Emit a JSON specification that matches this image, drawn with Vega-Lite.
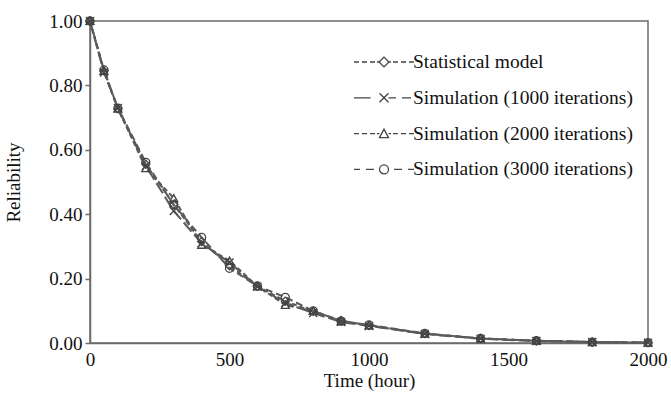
{
  "$schema": "https://vega.github.io/schema/vega-lite/v6.json",
  "width": 558,
  "height": 322,
  "autosize": "none",
  "padding": {"left": 90, "top": 21, "right": 23, "bottom": 61},
  "background": "white",
  "config": {
    "view": {"stroke": "#6b6b6b", "strokeWidth": 1.5},
    "font": "Liberation Serif",
    "axis": {
      "labelFont": "Liberation Serif",
      "labelFontSize": 19,
      "labelColor": "#111",
      "titleFont": "Liberation Serif",
      "titleFontSize": 19,
      "titleFontWeight": "normal",
      "titleColor": "#111",
      "domainColor": "#6b6b6b",
      "domainWidth": 1.5,
      "tickColor": "#6b6b6b",
      "tickWidth": 1.5,
      "grid": false,
      "labelFlush": false
    }
  },
  "data": {
    "values": [
      {"series": "Statistical model", "t": 0, "r": 1.0},
      {"series": "Statistical model", "t": 50, "r": 0.845},
      {"series": "Statistical model", "t": 100, "r": 0.727},
      {"series": "Statistical model", "t": 200, "r": 0.555},
      {"series": "Statistical model", "t": 300, "r": 0.43},
      {"series": "Statistical model", "t": 400, "r": 0.315},
      {"series": "Statistical model", "t": 500, "r": 0.24},
      {"series": "Statistical model", "t": 600, "r": 0.176},
      {"series": "Statistical model", "t": 700, "r": 0.13},
      {"series": "Statistical model", "t": 800, "r": 0.098},
      {"series": "Statistical model", "t": 900, "r": 0.07},
      {"series": "Statistical model", "t": 1000, "r": 0.054},
      {"series": "Statistical model", "t": 1200, "r": 0.029},
      {"series": "Statistical model", "t": 1400, "r": 0.014},
      {"series": "Statistical model", "t": 1600, "r": 0.007},
      {"series": "Statistical model", "t": 1800, "r": 0.003},
      {"series": "Statistical model", "t": 2000, "r": 0.001},
      {"series": "Simulation (1000 iterations)", "t": 0, "r": 1.0},
      {"series": "Simulation (1000 iterations)", "t": 50, "r": 0.84},
      {"series": "Simulation (1000 iterations)", "t": 100, "r": 0.73},
      {"series": "Simulation (1000 iterations)", "t": 200, "r": 0.55},
      {"series": "Simulation (1000 iterations)", "t": 300, "r": 0.41},
      {"series": "Simulation (1000 iterations)", "t": 400, "r": 0.31},
      {"series": "Simulation (1000 iterations)", "t": 500, "r": 0.25},
      {"series": "Simulation (1000 iterations)", "t": 600, "r": 0.175},
      {"series": "Simulation (1000 iterations)", "t": 700, "r": 0.125},
      {"series": "Simulation (1000 iterations)", "t": 800, "r": 0.093},
      {"series": "Simulation (1000 iterations)", "t": 900, "r": 0.065},
      {"series": "Simulation (1000 iterations)", "t": 1000, "r": 0.053},
      {"series": "Simulation (1000 iterations)", "t": 1200, "r": 0.028},
      {"series": "Simulation (1000 iterations)", "t": 1400, "r": 0.013},
      {"series": "Simulation (1000 iterations)", "t": 1600, "r": 0.006},
      {"series": "Simulation (1000 iterations)", "t": 1800, "r": 0.003},
      {"series": "Simulation (1000 iterations)", "t": 2000, "r": 0.001},
      {"series": "Simulation (2000 iterations)", "t": 0, "r": 1.0},
      {"series": "Simulation (2000 iterations)", "t": 50, "r": 0.845},
      {"series": "Simulation (2000 iterations)", "t": 100, "r": 0.728},
      {"series": "Simulation (2000 iterations)", "t": 200, "r": 0.543},
      {"series": "Simulation (2000 iterations)", "t": 300, "r": 0.45},
      {"series": "Simulation (2000 iterations)", "t": 400, "r": 0.305},
      {"series": "Simulation (2000 iterations)", "t": 500, "r": 0.256},
      {"series": "Simulation (2000 iterations)", "t": 600, "r": 0.176},
      {"series": "Simulation (2000 iterations)", "t": 700, "r": 0.118},
      {"series": "Simulation (2000 iterations)", "t": 800, "r": 0.1},
      {"series": "Simulation (2000 iterations)", "t": 900, "r": 0.068},
      {"series": "Simulation (2000 iterations)", "t": 1000, "r": 0.055},
      {"series": "Simulation (2000 iterations)", "t": 1200, "r": 0.029},
      {"series": "Simulation (2000 iterations)", "t": 1400, "r": 0.014},
      {"series": "Simulation (2000 iterations)", "t": 1600, "r": 0.007},
      {"series": "Simulation (2000 iterations)", "t": 1800, "r": 0.003},
      {"series": "Simulation (2000 iterations)", "t": 2000, "r": 0.001},
      {"series": "Simulation (3000 iterations)", "t": 0, "r": 1.0},
      {"series": "Simulation (3000 iterations)", "t": 50, "r": 0.848},
      {"series": "Simulation (3000 iterations)", "t": 100, "r": 0.729},
      {"series": "Simulation (3000 iterations)", "t": 200, "r": 0.561},
      {"series": "Simulation (3000 iterations)", "t": 300, "r": 0.429},
      {"series": "Simulation (3000 iterations)", "t": 400, "r": 0.328},
      {"series": "Simulation (3000 iterations)", "t": 500, "r": 0.232},
      {"series": "Simulation (3000 iterations)", "t": 600, "r": 0.177},
      {"series": "Simulation (3000 iterations)", "t": 700, "r": 0.142},
      {"series": "Simulation (3000 iterations)", "t": 800, "r": 0.1},
      {"series": "Simulation (3000 iterations)", "t": 900, "r": 0.068},
      {"series": "Simulation (3000 iterations)", "t": 1000, "r": 0.056},
      {"series": "Simulation (3000 iterations)", "t": 1200, "r": 0.03},
      {"series": "Simulation (3000 iterations)", "t": 1400, "r": 0.014},
      {"series": "Simulation (3000 iterations)", "t": 1600, "r": 0.007},
      {"series": "Simulation (3000 iterations)", "t": 1800, "r": 0.003},
      {"series": "Simulation (3000 iterations)", "t": 2000, "r": 0.001}
    ]
  },
  "encoding": {
    "x": {
      "field": "t", "type": "quantitative",
      "scale": {"domain": [0, 2000], "nice": false},
      "axis": {"values": [0, 500, 1000, 1500, 2000], "format": "d", "ticks": false, "labelPadding": 7, "title": "Time (hour)", "titlePadding": 2}
    },
    "y": {
      "field": "r", "type": "quantitative",
      "scale": {"domain": [0, 1], "nice": false},
      "axis": {"values": [0, 0.2, 0.4, 0.6, 0.8, 1.0], "format": ".2f", "tickSize": 5, "labelPadding": 3, "title": "Reliability", "titlePadding": 25}
    }
  },
  "layer": [
    {
      "mark": {"type": "line", "color": "#5a5a5a", "strokeWidth": 2},
      "encoding": {
        "detail": {"field": "series"},
        "strokeDash": {
          "field": "series", "type": "nominal",
          "scale": {
            "domain": ["Statistical model", "Simulation (1000 iterations)", "Simulation (2000 iterations)", "Simulation (3000 iterations)"],
            "range": [[5, 3], [12, 4], [5, 3], [7, 4]]
          },
          "legend": null
        }
      }
    },
    {
      "mark": {"type": "point", "filled": false, "stroke": "#444", "strokeWidth": 1.3, "size": 64, "opacity": 1},
      "encoding": {
        "shape": {
          "field": "series", "type": "nominal",
          "scale": {
            "domain": ["Statistical model", "Simulation (1000 iterations)", "Simulation (2000 iterations)", "Simulation (3000 iterations)"],
            "range": ["diamond", "M-1,-1L1,1M1,-1L-1,1", "triangle-up", "circle"]
          },
          "legend": null
        }
      }
    },
    {
      "transform": [{"filter": "datum.t < 0"}],
      "mark": {"type": "point", "filled": false, "stroke": "#444", "strokeWidth": 1.3, "opacity": 1},
      "encoding": {
        "shape": {
          "field": "series", "type": "nominal",
          "scale": {
            "domain": ["Statistical model", "Simulation (1000 iterations)", "Simulation (2000 iterations)", "Simulation (3000 iterations)"],
            "range": [
              "M-1,0H-0.67M-0.47,0H-0.13M0.07,0H0.4M0.53,0H0.67M0.67,0L1,-0.33L1.33,0L1,0.33ZM1.33,0H1.47M1.6,0H1.93M2.13,0H2.47M2.67,0H3",
              "M-1,0H0.1M0.7,-0.3L1.3,0.3M1.3,-0.3L0.7,0.3M1.3,0H1.8M2.2,0H2.8",
              "M-1,0H-0.67M-0.47,0H-0.13M0.07,0H0.4M0.53,0H0.7M0.7,0.27L1,-0.3L1.3,0.27ZM1.3,0H1.47M1.6,0H1.93M2.13,0H2.47M2.67,0H3",
              "M-1,0H-0.6M-0.2,0H0.33M0.7,0A0.3,0.3,0,1,1,1.3,0A0.3,0.3,0,1,1,0.7,0ZM1.67,0H2.2M2.6,0H3"
            ]
          },
          "legend": {
            "title": null,
            "orient": "none",
            "legendX": 263,
            "legendY": 25,
            "symbolSize": 900,
            "symbolStrokeWidth": 1.3,
            "symbolStrokeColor": "#444",
            "labelOffset": 28,
            "rowPadding": 9.8,
            "labelFont": "Liberation Serif",
            "labelFontSize": 19.5,
            "labelColor": "#111",
            "labelLimit": 400
          }
        }
      }
    }
  ],
  "resolve": {"scale": {"shape": "independent", "strokeDash": "independent"}, "legend": {"shape": "independent"}}
}
